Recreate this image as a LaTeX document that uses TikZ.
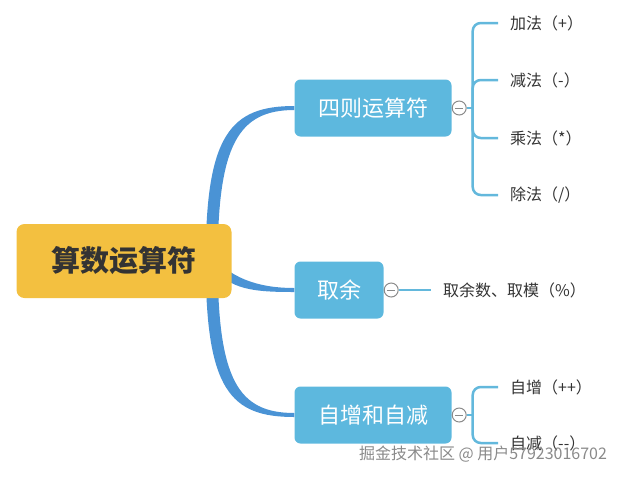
\documentclass[tikz,border=0pt]{standalone}
\usepackage{fontspec}
\setmainfont{Noto Sans CJK SC}
\usetikzlibrary{positioning,backgrounds}

\definecolor{rootyellow}{HTML}{F3C040}
\definecolor{branchblue}{HTML}{5DB8DE}
\definecolor{trunkblue}{HTML}{4A93D5}
\definecolor{twigblue}{HTML}{63B8DC}
\definecolor{textgray}{HTML}{333333}
\definecolor{foldgray}{HTML}{8A8A8A}

\tikzset{
  rootbox/.style={fill=rootyellow, rounded corners=8pt, minimum width=215pt, minimum height=74pt,
    text=textgray, font=\fontsize{29}{32}\selectfont\bfseries},
  branchbox/.style={fill=branchblue, rounded corners=6pt, minimum height=57pt,
    text=white, font=\fontsize{22}{24}\selectfont},
  leaf/.style={anchor=west, inner xsep=12pt, inner ysep=2pt, text=textgray, font=\fontsize{16}{18}\selectfont},
  fold/.style={circle, draw=foldgray, line width=1pt, fill=white, minimum size=14pt, inner sep=0pt,
    path picture={\draw[foldgray, line width=1pt] ([xshift=-4pt]path picture bounding box.center) -- ([xshift=4pt]path picture bounding box.center);}},
  trunk/.style={fill=trunkblue},
  twig/.style={draw=twigblue, line width=2.5pt, rounded corners=8pt},
  watermark/.style={text=foldgray, font=\fontsize{16}{18}\selectfont}
}

\begin{document}
\begin{tikzpicture}[x=1pt, y=-1pt]
	\useasboundingbox (0,0) rectangle (618,477);

	\node[rootbox] (root) at (124,261) {算数运算符};
	\node[branchbox, minimum width=157pt] (ops) at (373,108) {四则运算符};
	\node[branchbox, minimum width=89pt] (mod) at (339,290) {取余};
	\node[branchbox, minimum width=157pt] (inc) at (373,415) {自增和自减};

	\node[fold, right=0pt of ops] (opsF) {};
	\node[fold, right=0pt of mod] (modF) {};
	\node[fold, right=0pt of inc] (incF) {};

	\node[leaf] (add) at (498,23) {加法（+）};
	\node[leaf] (sub) at (498,80) {减法（-）};
	\node[leaf] (mul) at (498,138) {乘法（*）};
	\node[leaf] (div) at (498,195) {除法（/）};
	\node[leaf] (rem) at (431,290) {取余数、取模（\%）};
	\node[leaf] (up) at (498,387) {自增（++）};
	\node[leaf] (down) at (498,443) {自减（{-}{-}）};

	% main branches behind the root, thinner towards the ends
	\begin{scope}[on background layer]
		\coordinate (rt) at ([xshift=-20pt]root.east);
		\fill[trunk] ([xshift=-6pt]rt) .. controls +(0,-126) and +(-64,0) .. ([yshift=2pt]ops.west)
			-- ([yshift=-2pt]ops.west) .. controls +(-56,0) and +(0,-116) .. ([xshift=6pt]rt) -- cycle;
		\fill[trunk] ([yshift=5pt]rt) .. controls +(18,20) and +(-40,0) .. ([yshift=2pt]mod.west)
			-- ([yshift=-2pt]mod.west) .. controls +(-40,0) and +(18,24) .. ([yshift=-5pt]rt) -- cycle;
		\fill[trunk] ([xshift=-6pt]rt) .. controls +(0,129) and +(-64,0) .. ([yshift=-2pt]inc.west)
			-- ([yshift=2pt]inc.west) .. controls +(-56,0) and +(0,119) .. ([xshift=6pt]rt) -- cycle;
	\end{scope}

	\draw[twig] (opsF.east) -- ++(6,0) coordinate (opsJ);
	\foreach \n in {add,sub,mul,div}
		\draw[twig] (opsJ) |- (\n.west);
	\draw[twig] (modF.east) -- (rem.west);
	\draw[twig] (incF.east) -- ++(6,0) coordinate (incJ);
	\foreach \n in {up,down}
		\draw[twig] (incJ) |- (\n.west);

	\node[watermark] (wm) at (483,454) {掘金技术社区 @ 用户57923016702};
\end{tikzpicture}
\end{document}
